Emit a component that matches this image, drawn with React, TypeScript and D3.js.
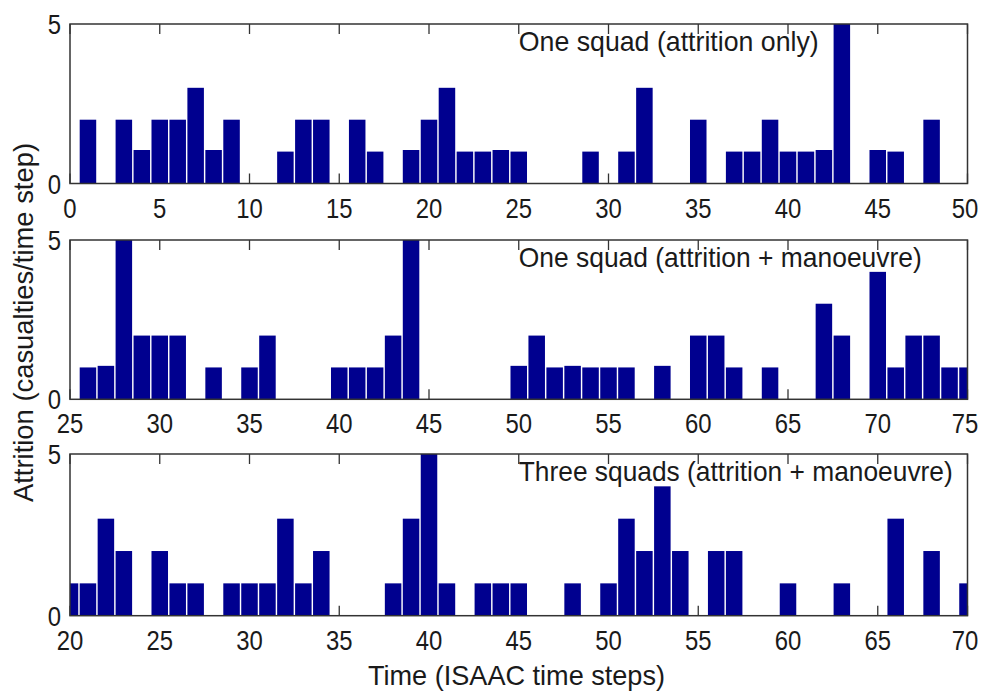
import React from "react";
import * as d3 from "d3";

// ---- Data (casualties per ISAAC time step) ----
const panel1Start = 0;
const panel1Values = [
  0, 2, 0, 2, 1.05, 2, 2, 3, 1.05, 2, 0, 0, 1, 2, 2, 0, 2, 1, 0, 1.05, 2, 3, 1, 1, 1.05, 1,
  0, 0, 0, 1, 0, 1, 3, 0, 0, 2, 0, 1, 1, 2, 1, 1, 1.05, 5, 0, 1.05, 1, 0, 2, 0, 0,
];
const panel2Start = 25;
const panel2Values = [
  0, 1, 1.05, 5, 2, 2, 2, 0, 1, 0, 1, 2, 0, 0, 0, 1, 1, 1, 2, 5, 0, 0, 0, 0, 0, 1.05,
  2, 1, 1.05, 1, 1, 1, 0, 1.05, 0, 2, 2, 1, 0, 1, 0, 0, 3, 2, 0, 4, 1, 2, 2, 1, 1,
];
const panel3Start = 20;
const panel3Values = [
  1, 1, 3, 2, 0, 2, 1, 1, 0, 1, 1, 1, 3, 1, 2, 0, 0, 0, 1, 3, 5, 1, 0, 1, 1, 1,
  0, 0, 1, 0, 1, 3, 2, 4, 2, 0, 2, 2, 0, 0, 1, 0, 0, 1, 0, 0, 3, 0, 2, 0, 1,
];
const panelTitles = [
  "One squad (attrition only)",
  "One squad (attrition + manoeuvre)",
  "Three squads (attrition + manoeuvre)",
];
const yTickLabels = [0, 5];
const xLabel = "Time (ISAAC time steps)";
const yLabel = "Attrition (casualties/time step)";

// ---- Layout ----
const W = 982;
const H = 692;
const LEFT = 70;
const RIGHT = 967.5;
const FONT = "'Liberation Sans', Arial, sans-serif";
const FS = 28;
const BAR = "#00008f";
const INK = "#1a1a1a";

const panels = [
  { start: panel1Start, values: panel1Values, title: panelTitles[0], top: 24, bottom: 183.5, titleW: 300 },
  { start: panel2Start, values: panel2Values, title: panelTitles[1], top: 240, bottom: 399.3, titleW: 403 },
  { start: panel3Start, values: panel3Values, title: panelTitles[2], top: 454, bottom: 615.7, titleW: 434 },
];

function Panel({ p, idx }: { p: any; idx: number }) {
  const xMin = p.start;
  const xMax = p.start + p.values.length - 1;
  const x = d3.scaleLinear().domain([xMin, xMax]).range([LEFT, RIGHT]);
  const y = d3.scaleLinear().domain([0, 5]).range([p.bottom, p.top]);
  const ticks = d3.range(xMin, xMax + 1, 5);
  const clipId = `clip${idx}`;
  const data = p.values.map((v: number, i: number) => ({ t: p.start + i, v }));
  const half = 0.46;
  return (
    <g>
      <defs>
        <clipPath id={clipId}>
          <rect x={LEFT} y={p.top} width={RIGHT - LEFT} height={p.bottom - p.top} />
        </clipPath>
      </defs>
      {ticks.map((t: number) => (
        <g key={t}>
          <line x1={x(t)} x2={x(t)} y1={p.bottom} y2={p.bottom - 10} stroke="#333" strokeWidth={1.3} />
          <line x1={x(t)} x2={x(t)} y1={p.top} y2={p.top + 10} stroke="#333" strokeWidth={1.3} />
        </g>
      ))}
      <g clipPath={`url(#${clipId})`}>
        {data
          .filter((d: any) => d.v > 0)
          .map((d: any) => (
            <rect
              key={d.t}
              x={x(d.t - half)}
              width={x(d.t + half) - x(d.t - half)}
              y={y(d.v)}
              height={y(0) - y(d.v)}
              fill={BAR}
            />
          ))}
      </g>
      <text
        x={x((xMin + xMax) / 2)}
        y={p.top + 26.5}
        fontFamily={FONT}
        fontSize={FS}
        fill={INK}
        textLength={p.titleW}
        lengthAdjust="spacingAndGlyphs"
      >
        {p.title}
      </text>
      <rect
        x={LEFT}
        y={p.top}
        width={RIGHT - LEFT}
        height={p.bottom - p.top}
        fill="none"
        stroke="#333"
        strokeWidth={1.5}
      />
      {ticks.map((t: number) => (
        <text
          key={"l" + t}
          x={t === xMax ? x(t) - 2.5 : x(t)}
          y={p.bottom + 34}
          textAnchor="middle"
          fontFamily={FONT}
          fontSize={FS}
          fill={INK}
          textLength={String(t).length * 13.3}
          lengthAdjust="spacingAndGlyphs"
        >
          {t}
        </text>
      ))}
      {yTickLabels.map((v) => (
        <text
          key={"y" + v}
          x={61}
          y={y(v)}
          dy="0.36em"
          textAnchor="end"
          fontFamily={FONT}
          fontSize={FS}
          fill={INK}
          textLength={13.3}
          lengthAdjust="spacingAndGlyphs"
        >
          {v}
        </text>
      ))}
    </g>
  );
}

export default function App() {
  return (
    <svg
      width={W}
      height={H}
      viewBox={`0 0 ${W} ${H}`}
      style={{ position: "absolute", left: 0, top: 0, background: "#fff" }}
    >
      <rect width={W} height={H} fill="#fff" />
      {panels.map((p, i) => (
        <Panel key={i} p={p} idx={i} />
      ))}
      <text
        x={(368 + 665) / 2}
        y={685}
        textAnchor="middle"
        fontFamily={FONT}
        fontSize={FS}
        fill={INK}
        textLength={297}
        lengthAdjust="spacingAndGlyphs"
      >
        {xLabel}
      </text>
      <text
        transform={`translate(33, 322.5) rotate(-90)`}
        textAnchor="middle"
        fontFamily={FONT}
        fontSize={FS}
        fill={INK}
        textLength={359}
        lengthAdjust="spacingAndGlyphs"
      >
        {yLabel}
      </text>
    </svg>
  );
}
